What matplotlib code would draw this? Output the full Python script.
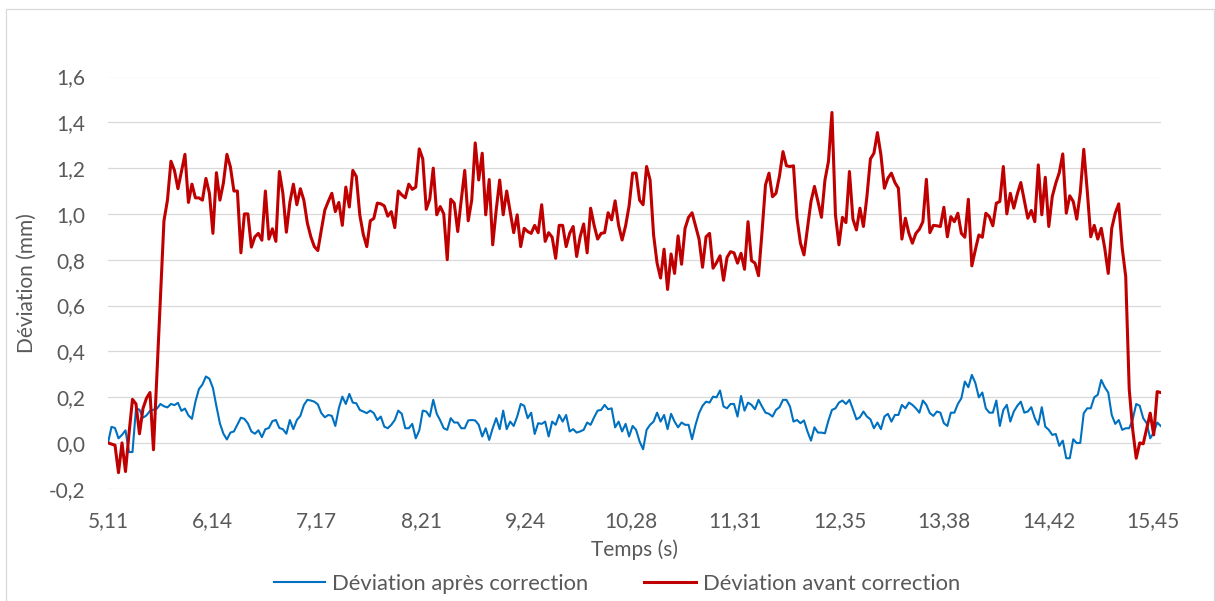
import matplotlib
matplotlib.use("Agg")
import matplotlib.pyplot as plt
import numpy as np
from matplotlib.patches import Rectangle

plt.rcParams["font.family"] = ["Lato", "DejaVu Sans"]

# sampling of the recorded signals
t_start = 5.11
dt = 0.0346

# deviation before correction (mm)
dev_avant = [
    0.0, -0.005, -0.01, -0.13, 0.0, -0.125, 0.04, 0.19, 0.17, 0.04,
    0.15, 0.195, 0.22, -0.03, 0.3, 0.62, 0.97, 1.06, 1.23, 1.19,
    1.11, 1.185, 1.26, 1.05, 1.13, 1.07, 1.07, 1.06, 1.155, 1.09,
    0.915, 1.18, 1.06, 1.135, 1.26, 1.205, 1.10, 1.10, 0.83, 1.0,
    1.0, 0.855, 0.9, 0.915, 0.885, 1.1, 0.89, 0.935, 0.88,
    1.185, 1.09, 0.92, 1.05, 1.13, 1.04, 1.11, 1.06, 0.96, 0.9,
    0.857, 0.84, 0.93, 1.017, 1.055, 1.09, 1.01, 1.05, 0.95, 1.117,
    1.03, 1.19, 1.163, 0.995, 0.91, 0.857, 0.97, 0.98, 1.047, 1.044,
    1.035, 0.99, 1.01, 0.94, 1.10, 1.083, 1.07, 1.13, 1.107, 1.117,
    1.284, 1.24, 1.02, 1.064, 1.2, 0.996, 1.032, 1.0, 0.8,
    1.064, 1.047, 0.923, 1.06, 1.19, 0.97, 1.06, 1.31, 1.148, 1.265,
    0.996, 1.15, 0.865, 1.017, 1.148, 0.996, 1.1, 1.01, 0.918, 0.996,
    0.857, 0.937, 0.923, 0.915, 0.95, 0.918, 1.04, 0.88, 0.918, 0.898,
    0.806, 0.95, 0.95, 0.857, 0.915, 0.945, 0.814, 0.9, 0.956, 0.83,
    1.025, 0.95, 0.89, 0.915, 0.918, 1.005, 0.974, 1.057, 0.95,
    0.886, 0.948, 1.035, 1.178, 1.178, 1.06, 1.04, 1.207, 1.148, 0.908,
    0.785, 0.72, 0.846, 0.67, 0.825, 0.74, 0.904, 0.78, 0.937, 0.985,
    1.005, 0.948, 0.89, 0.767, 0.9, 0.915, 0.763, 0.787, 0.817, 0.71,
    0.81, 0.835, 0.83, 0.785, 0.828, 0.758, 0.966, 0.796, 0.785, 0.73,
    0.92, 1.127, 1.178, 1.075, 1.09, 1.166, 1.272, 1.21, 1.207,
    1.21, 0.981, 0.872, 0.821, 0.937, 1.054, 1.12, 1.054, 0.985, 1.148,
    1.229, 1.443, 0.996, 0.865, 0.985, 0.962, 1.185, 0.977, 0.93, 1.025,
    0.945, 1.076, 1.24, 1.265, 1.355, 1.258, 1.112, 1.156, 1.178, 1.137,
    1.112, 0.89, 0.981, 0.915, 0.872, 0.915, 0.933, 0.966, 1.151, 0.918,
    0.95, 0.948, 0.945, 1.029, 0.9, 0.988, 0.966, 1.003, 0.915,
    0.898, 1.064, 0.773, 0.843, 0.908, 0.898, 1.003, 0.988, 0.948, 1.047,
    1.054, 1.207, 1.0, 1.09, 1.025, 1.087, 1.137, 1.06, 0.981, 1.015,
    0.966, 1.214, 0.996, 1.16, 0.945, 1.076, 1.134, 1.18, 1.262, 1.003,
    1.079, 1.054, 0.977, 1.093, 1.282, 1.1, 0.9, 0.95, 0.89, 0.937,
    0.85, 0.74, 0.937, 1.003, 1.044, 0.85, 0.726, 0.234, 0.057, -0.067,
    0.0, -0.004, 0.064, 0.13, 0.035, 0.224, 0.22,
]

# deviation after correction (mm)
dev_apres = [
    0.0, 0.07, 0.065, 0.02, 0.035, 0.055, -0.04, -0.04, 0.15, 0.145,
    0.11, 0.12, 0.14, 0.145, 0.15, 0.17, 0.16, 0.155, 0.17, 0.165,
    0.175, 0.14, 0.15, 0.12, 0.105, 0.18, 0.235, 0.255, 0.29, 0.28,
    0.24, 0.16, 0.085, 0.04, 0.015, 0.045, 0.05, 0.08, 0.11, 0.105,
    0.085, 0.05, 0.04, 0.055, 0.025, 0.06, 0.065, 0.095, 0.1,
    0.065, 0.06, 0.04, 0.1, 0.06, 0.1, 0.118, 0.165, 0.188, 0.185,
    0.18, 0.168, 0.13, 0.112, 0.122, 0.118, 0.074, 0.151, 0.202, 0.17,
    0.214, 0.176, 0.173, 0.144, 0.137, 0.13, 0.141, 0.13, 0.1, 0.115,
    0.071, 0.064, 0.079, 0.1, 0.141, 0.127, 0.064, 0.064, 0.083, 0.02,
    0.054, 0.141, 0.137, 0.115, 0.188, 0.127, 0.098, 0.064, 0.057,
    0.108, 0.089, 0.089, 0.064, 0.064, 0.098, 0.1, 0.098, 0.079, 0.028,
    0.064, 0.013, 0.064, 0.108, 0.06, 0.141, 0.06, 0.093, 0.074, 0.115,
    0.17, 0.162, 0.108, 0.132, 0.039, 0.086, 0.083, 0.093, 0.028, 0.093,
    0.079, 0.122, 0.093, 0.122, 0.05, 0.06, 0.045, 0.05, 0.057, 0.089,
    0.079, 0.112, 0.141, 0.144, 0.166, 0.147, 0.151, 0.068, 0.093,
    0.05, 0.083, 0.028, 0.074, 0.057, 0.006, -0.028, 0.057, 0.079, 0.093,
    0.132, 0.093, 0.122, 0.06, 0.127, 0.093, 0.068, 0.089, 0.079, 0.079,
    0.016, 0.079, 0.13, 0.162, 0.18, 0.176, 0.202, 0.199, 0.229, 0.159,
    0.151, 0.17, 0.17, 0.115, 0.205, 0.141, 0.176, 0.166, 0.147, 0.188,
    0.159, 0.132, 0.127, 0.115, 0.144, 0.156, 0.188, 0.188, 0.159,
    0.093, 0.1, 0.086, 0.098, 0.05, 0.01, 0.068, 0.045, 0.045, 0.042,
    0.098, 0.144, 0.151, 0.176, 0.185, 0.17, 0.188, 0.147, 0.103, 0.112,
    0.137, 0.115, 0.103, 0.064, 0.089, 0.06, 0.115, 0.127, 0.093, 0.122,
    0.122, 0.166, 0.151, 0.176, 0.166, 0.151, 0.132, 0.185, 0.166, 0.13,
    0.118, 0.137, 0.132, 0.086, 0.074, 0.132, 0.132, 0.17, 0.195,
    0.268, 0.243, 0.297, 0.262, 0.199, 0.22, 0.151, 0.132, 0.132, 0.185,
    0.074, 0.144, 0.166, 0.093, 0.137, 0.162, 0.18, 0.132, 0.137, 0.156,
    0.108, 0.079, 0.156, 0.071, 0.057, 0.035, 0.039, -0.013, 0.01, -0.067,
    -0.067, 0.016, -0.001, 0.0, 0.13, 0.151, 0.151, 0.199, 0.21, 0.275,
    0.243, 0.22, 0.122, 0.083, 0.1, 0.057, 0.064, 0.064, 0.103, 0.17,
    0.162, 0.108, 0.086, 0.02, 0.045, 0.089, 0.074,
]

x_ticks = [5.11, 6.14, 7.17, 8.21, 9.24, 10.28, 11.31, 12.35, 13.38, 14.42, 15.45]
x_tick_labels = ["5,11", "6,14", "7,17", "8,21", "9,24", "10,28",
                 "11,31", "12,35", "13,38", "14,42", "15,45"]
y_ticks = [-0.2, 0.0, 0.2, 0.4, 0.6, 0.8, 1.0, 1.2, 1.4, 1.6]
y_tick_labels = ["-0,2", "0,0", "0,2", "0,4", "0,6", "0,8", "1,0", "1,2", "1,4", "1,6"]

assert len(dev_avant) == len(dev_apres)
t = t_start + dt * np.arange(len(dev_avant))

text_col = "#595959"
W, H = 1215, 601

fig = plt.figure(figsize=(W / 100, H / 100), dpi=100)
ax = fig.add_axes([108 / W, 1 - 488.7 / H, (1160.7 - 108) / W, (488.7 - 76.5) / H])

ax.plot(t, dev_apres, color="#0070C0", lw=1.5, label="Déviation après correction")
ax.plot(t, dev_avant, color="#C00000", lw=2.2, label="Déviation avant correction")

ax.set_xlim(t[0], t[-1])
ax.set_ylim(-0.2, 1.6)
ax.set_xticks(x_ticks, x_tick_labels)
ax.set_yticks(y_ticks, y_tick_labels)
ax.grid(axis="y", color="#d9d9d9", lw=0.9)
ax.set_axisbelow(True)
for s in ax.spines.values():
    s.set_visible(False)
ax.tick_params(axis="both", length=0, labelsize=15, labelcolor=text_col)
ax.tick_params(axis="x", pad=16)
ax.tick_params(axis="y", pad=16.5)

ax.set_xlabel("Temps (s)", fontsize=15, color=text_col, labelpad=6)
ax.set_ylabel("Déviation (mm)", fontsize=15, color=text_col, labelpad=8)

fig.legend(loc="center", bbox_to_anchor=(617 / W, 1 - 584 / H), ncol=2,
           frameon=False, fontsize=15.8, labelcolor=text_col,
           handlelength=2.33, handletextpad=0.32, columnspacing=2.55)

# chart area frame
fig.patches.append(Rectangle((6 / W, -0.02), (1214 - 6) / W, 1.02 - 9 / H,
                             transform=fig.transFigure, fill=False,
                             edgecolor="#d9d9d9", lw=0.9))

fig.savefig("out.png", dpi=100)
